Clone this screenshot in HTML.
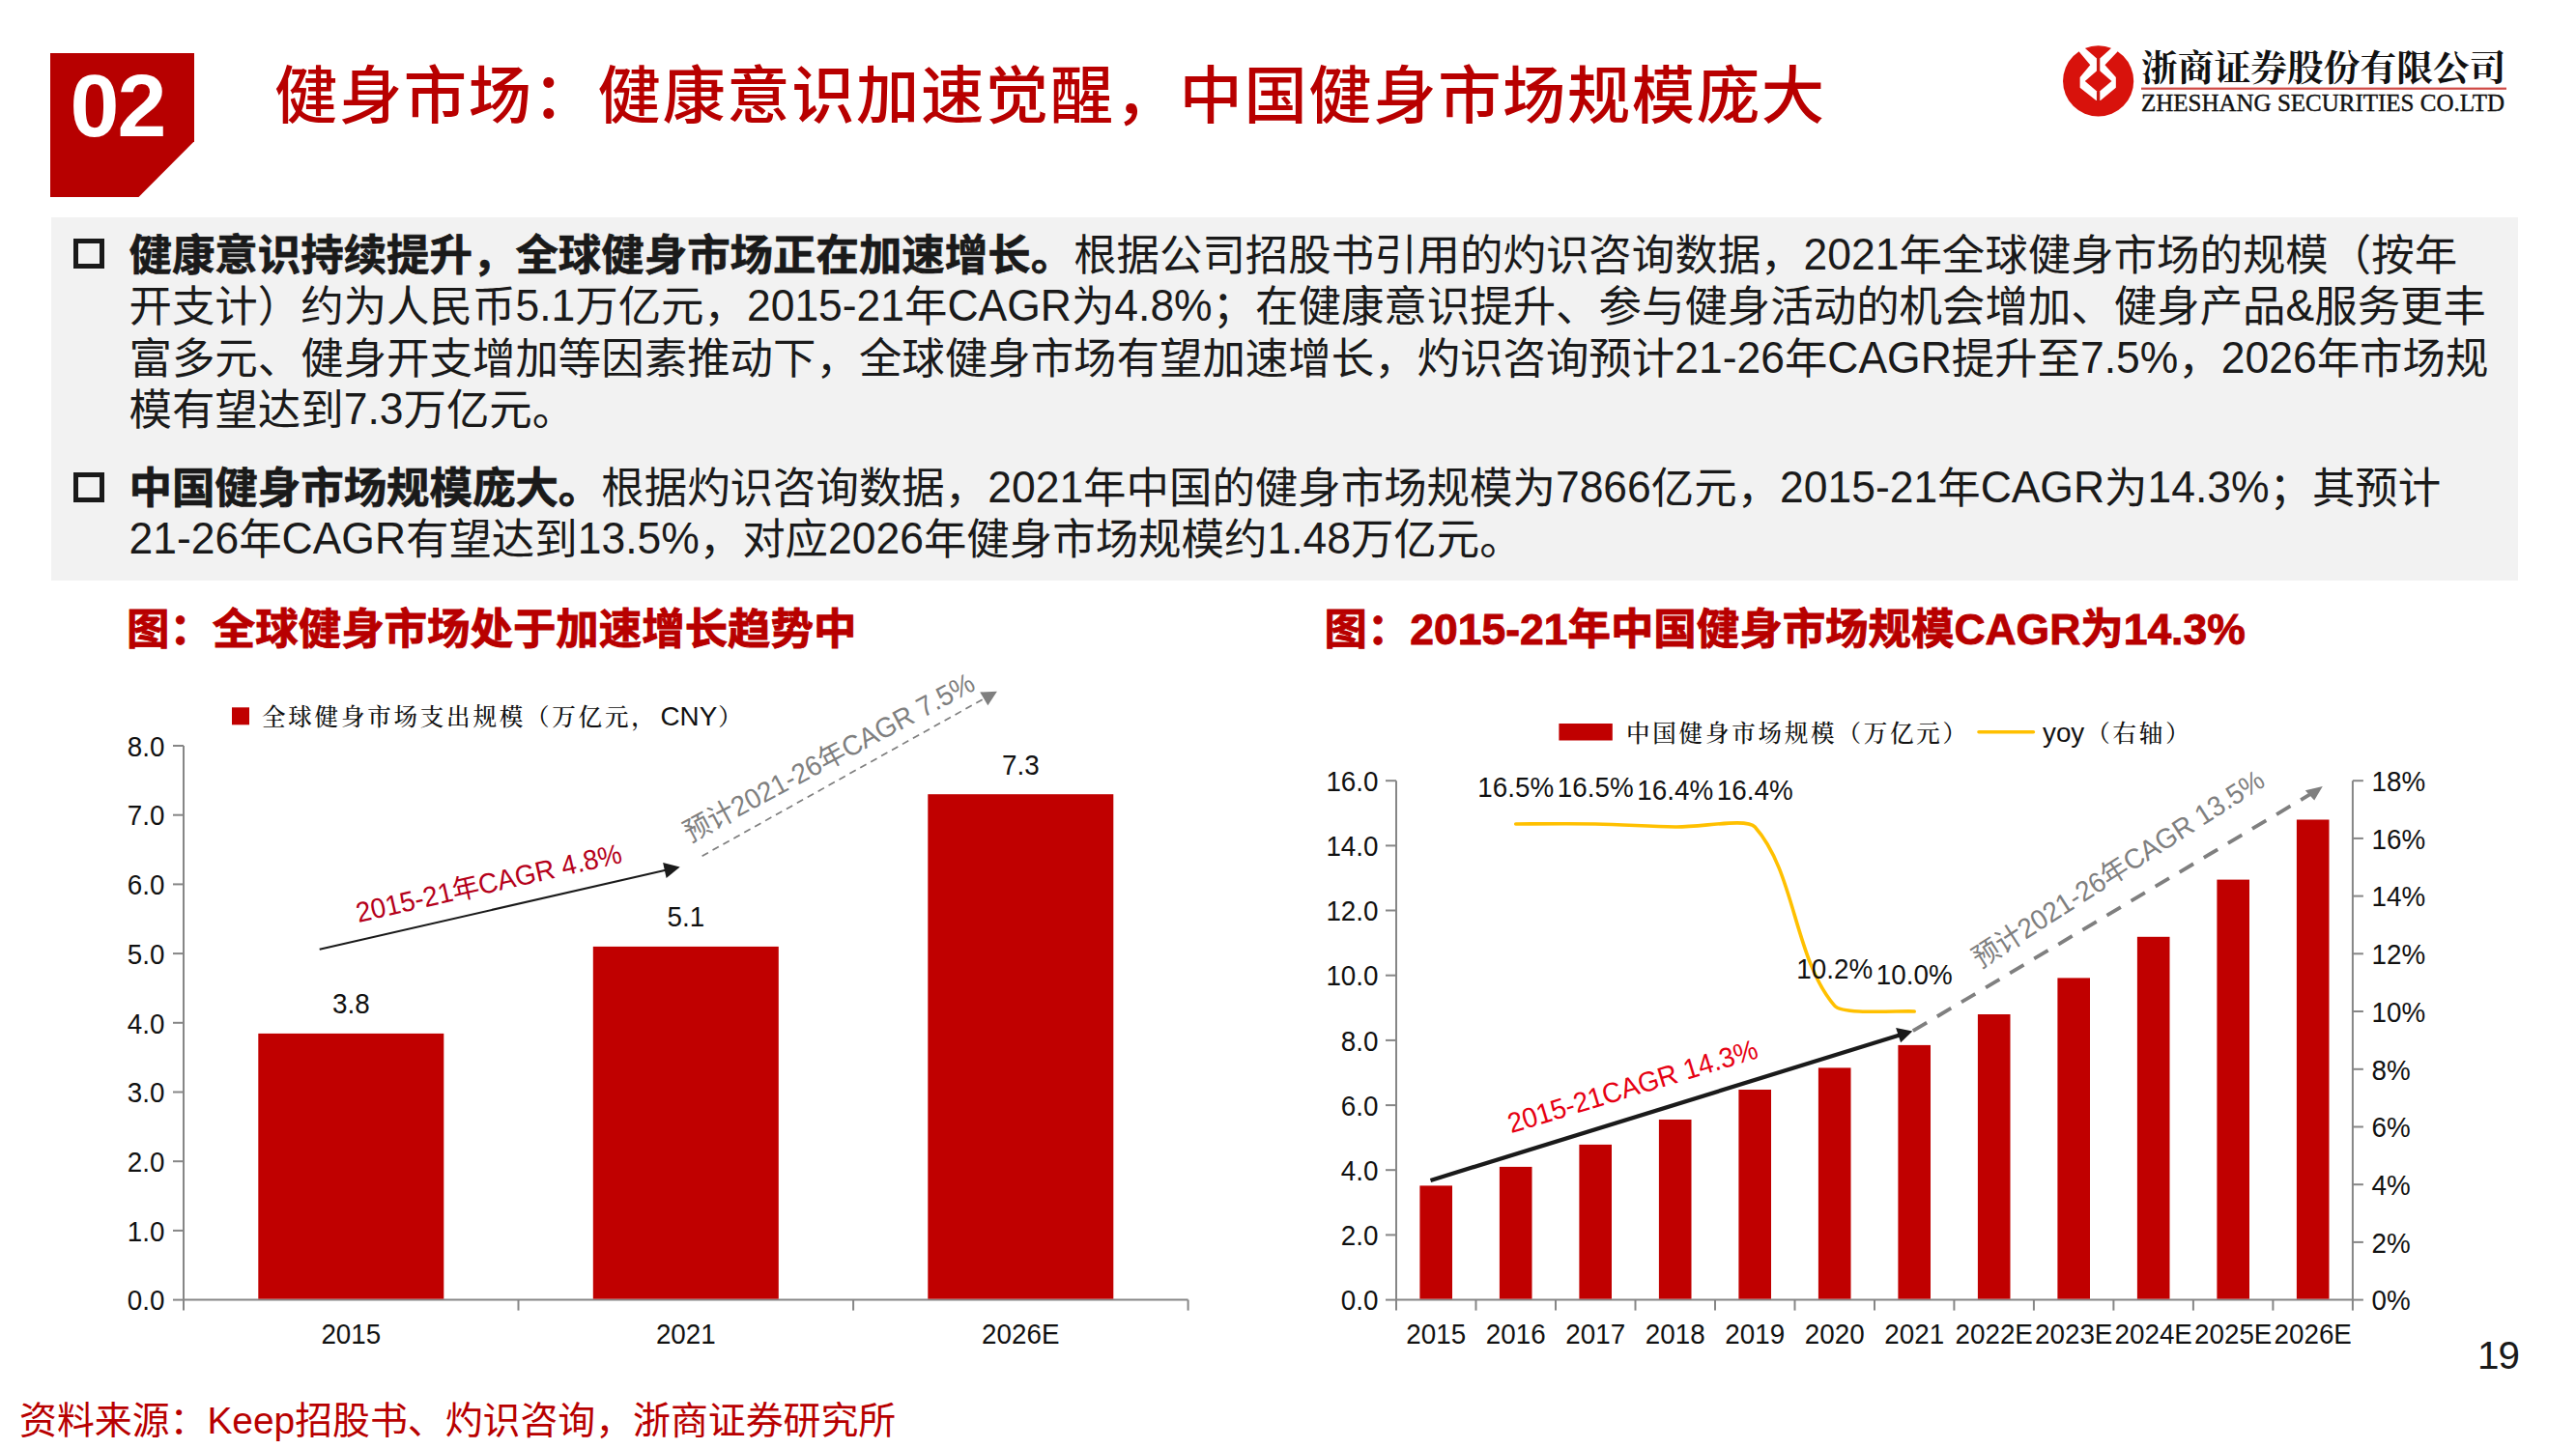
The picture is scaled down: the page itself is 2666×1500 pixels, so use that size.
<!DOCTYPE html>
<html lang="zh-CN"><head><meta charset="utf-8"><title>健身市场</title>
<style>
html,body{margin:0;padding:0;background:#fff;}
body{width:2666px;height:1500px;position:relative;overflow:hidden;font-family:"Liberation Sans","Noto Sans CJK SC",sans-serif;}
.abs{position:absolute;white-space:nowrap;}
#num{left:52px;top:55px;width:149px;height:149px;background:#b70000;clip-path:polygon(0 0,100% 0,100% 61.2%,61.4% 100%,0 100%);}
#numt{left:72.5px;top:55px;text-align:left;color:#fff;font-weight:bold;font-size:91.5px;line-height:108px;letter-spacing:-2px}
#title{left:284px;top:51.7px;font-size:65.3px;letter-spacing:1.6px;line-height:96px;font-weight:500;color:#b80000;}
#box{left:53px;top:225px;width:2553px;height:376px;background:#f2f2f2;}
.para{left:133.5px;font-size:44.44px;line-height:53.33px;color:#1a1a1a;}
.para .l{display:inline-block;transform:translateY(-1.2px) scaleY(1.04);transform-origin:50% 79%;}
.para b{font-weight:bold;-webkit-text-stroke:0.7px #1a1a1a;}
.bul{left:75.5px;width:22px;height:21px;border:5px solid #1a1a1a;}
.ct{font-size:44.44px;line-height:60px;font-weight:bold;color:#b80000;-webkit-text-stroke:0.9px #b80000;}
#src{left:20px;top:1446px;font-size:38.89px;line-height:50px;color:#b80000;}
#pg{left:2564px;top:1377.5px;font-size:40.4px;letter-spacing:-1px;line-height:50px;color:#1a1a1a;}
svg{position:absolute;left:0;top:0;}
svg text{font-family:"Liberation Sans","Noto Sans CJK SC",sans-serif;}
.ax{font-size:27.8px;fill:#111;}
.axl{font-family:"Liberation Sans",sans-serif;font-size:27.8px;letter-spacing:0;}
svg text.lg1{font-family:"Liberation Serif","Noto Serif CJK SC",serif;font-weight:700;font-size:37px;}
svg text.lg2{font-family:"Liberation Serif",serif;font-size:24.4px;}
.kai{font-family:"Liberation Sans","Noto Serif CJK SC",serif !important;font-size:24.5px;letter-spacing:2.8px;fill:#111;font-weight:500;}
</style></head><body>
<div class="abs" id="num"></div>
<div class="abs" id="numt">02</div>
<div class="abs" id="title">健身市场：健康意识加速觉醒，中国健身市场规模庞大</div>
<div class="abs" id="box"></div>
<div class="abs bul" style="top:247px"></div>
<div class="abs para" style="top:238px"><b>健康意识持续提升，全球健身市场正在加速增长。</b>根据公司招股书引用的灼识咨询数据，<span class="l">2021</span>年全球健身市场的规模（按年<br>开支计）约为人民币<span class="l">5.1</span>万亿元，<span class="l">2015-21</span>年<span class="l">CAGR</span>为<span class="l">4.8%</span>；在健康意识提升、参与健身活动的机会增加、健身产品<span class="l">&amp;</span>服务更丰<br>富多元、健身开支增加等因素推动下，全球健身市场有望加速增长，灼识咨询预计<span class="l">21-26</span>年<span class="l">CAGR</span>提升至<span class="l">7.5%</span>，<span class="l">2026</span>年市场规<br>模有望达到<span class="l">7.3</span>万亿元。</div>
<div class="abs bul" style="top:489px"></div>
<div class="abs para" style="top:479px"><b>中国健身市场规模庞大。</b>根据灼识咨询数据，<span class="l">2021</span>年中国的健身市场规模为<span class="l">7866</span>亿元，<span class="l">2015-21</span>年<span class="l">CAGR</span>为<span class="l">14.3%</span>；其预计<br><span class="l">21-26</span>年<span class="l">CAGR</span>有望达到<span class="l">13.5%</span>，对应<span class="l">2026</span>年健身市场规模约<span class="l">1.48</span>万亿元。</div>
<div class="abs ct" style="left:131px;top:622px">图：全球健身市场处于加速增长趋势中</div>
<div class="abs ct" style="left:1370.5px;top:622px">图：2015-21年中国健身市场规模CAGR为14.3%</div>
<svg width="2666" height="1500" viewBox="0 0 2666 1500">
<g stroke="#868686" stroke-width="2" fill="none">
<path d="M190.0 772.0 V1345.6 H1229.6"/>
<path d="M179.0 1345.6 H190.0"/>
<path d="M179.0 1273.9 H190.0"/>
<path d="M179.0 1202.2 H190.0"/>
<path d="M179.0 1130.5 H190.0"/>
<path d="M179.0 1058.8 H190.0"/>
<path d="M179.0 987.1 H190.0"/>
<path d="M179.0 915.4 H190.0"/>
<path d="M179.0 843.7 H190.0"/>
<path d="M179.0 772.0 H190.0"/>
<path d="M190.0 1345.6 V1356.6"/>
<path d="M536.5 1345.6 V1356.6"/>
<path d="M883.1 1345.6 V1356.6"/>
<path d="M1229.6 1345.6 V1356.6"/>
</g>
<rect x="267.3" y="1069.9" width="192" height="274.7" fill="#c00000"/>
<text class="ax" transform="translate(363.3,1049.2) scale(1,1.045)" text-anchor="middle">3.8</text>
<text class="ax" transform="translate(363.3,1391.0) scale(1,1.045)" text-anchor="middle">2015</text>
<rect x="613.8" y="979.9" width="192" height="364.7" fill="#c00000"/>
<text class="ax" transform="translate(709.8,959.2) scale(1,1.045)" text-anchor="middle">5.1</text>
<text class="ax" transform="translate(709.8,1391.0) scale(1,1.045)" text-anchor="middle">2021</text>
<rect x="960.3" y="822.2" width="192" height="522.4" fill="#c00000"/>
<text class="ax" transform="translate(1056.3,801.5) scale(1,1.045)" text-anchor="middle">7.3</text>
<text class="ax" transform="translate(1056.3,1391.0) scale(1,1.045)" text-anchor="middle">2026E</text>
<text class="ax" transform="translate(170.5,1356.3) scale(1,1.045)" text-anchor="end">0.0</text>
<text class="ax" transform="translate(170.5,1284.6) scale(1,1.045)" text-anchor="end">1.0</text>
<text class="ax" transform="translate(170.5,1212.9) scale(1,1.045)" text-anchor="end">2.0</text>
<text class="ax" transform="translate(170.5,1141.2) scale(1,1.045)" text-anchor="end">3.0</text>
<text class="ax" transform="translate(170.5,1069.5) scale(1,1.045)" text-anchor="end">4.0</text>
<text class="ax" transform="translate(170.5,997.8) scale(1,1.045)" text-anchor="end">5.0</text>
<text class="ax" transform="translate(170.5,926.1) scale(1,1.045)" text-anchor="end">6.0</text>
<text class="ax" transform="translate(170.5,854.4) scale(1,1.045)" text-anchor="end">7.0</text>
<text class="ax" transform="translate(170.5,782.7) scale(1,1.045)" text-anchor="end">8.0</text>
<rect x="240" y="732.3" width="18" height="18" fill="#c00000"/>
<text class="kai" x="271" y="750.5">全球健身市场支出规模（万亿元，<tspan class="axl" dx="3">CNY</tspan><tspan dx="1">）</tspan></text>
<path d="M330.7 982.7 L690 900.6" stroke="#1a1a1a" stroke-width="2.1" fill="none"/>
<polygon points="703.7,897.5 686.1,893.1 689.6,908.9" fill="#1a1a1a"/>
<text class="ax" fill="#b80000" transform="translate(371,955) rotate(-12.8) scale(1,1.045)"><tspan fill="#b5001a">2015-21年CAGR 4.8%</tspan></text>
<path d="M726.6 886.2 L1020 722.3" stroke="#7f7f7f" stroke-width="1.7" stroke-dasharray="7.2 5.3" fill="none"/>
<polygon points="1031.9,715.8 1014.2,716.5 1022.4,730.2" fill="#7f7f7f"/>
<text class="ax" transform="translate(714.3,872.5) rotate(-28.2) scale(1,1.045)"><tspan fill="#7f7f7f">预计2021-26年CAGR 7.5%</tspan></text>
<g stroke="#868686" stroke-width="2" fill="none">
<path d="M1445.0 808.2 V1345.6 H2434.9 V808.2"/>
<path d="M1434.0 1345.6 H1445.0"/>
<path d="M1434.0 1278.4 H1445.0"/>
<path d="M1434.0 1211.2 H1445.0"/>
<path d="M1434.0 1144.1 H1445.0"/>
<path d="M1434.0 1076.9 H1445.0"/>
<path d="M1434.0 1009.7 H1445.0"/>
<path d="M1434.0 942.5 H1445.0"/>
<path d="M1434.0 875.4 H1445.0"/>
<path d="M1434.0 808.2 H1445.0"/>
<path d="M2434.9 1345.6 H2445.9"/>
<path d="M2434.9 1285.9 H2445.9"/>
<path d="M2434.9 1226.2 H2445.9"/>
<path d="M2434.9 1166.5 H2445.9"/>
<path d="M2434.9 1106.8 H2445.9"/>
<path d="M2434.9 1047.0 H2445.9"/>
<path d="M2434.9 987.3 H2445.9"/>
<path d="M2434.9 927.6 H2445.9"/>
<path d="M2434.9 867.9 H2445.9"/>
<path d="M2434.9 808.2 H2445.9"/>
<path d="M1445.0 1345.6 V1356.6"/>
<path d="M1527.5 1345.6 V1356.6"/>
<path d="M1610.0 1345.6 V1356.6"/>
<path d="M1692.5 1345.6 V1356.6"/>
<path d="M1775.0 1345.6 V1356.6"/>
<path d="M1857.5 1345.6 V1356.6"/>
<path d="M1940.0 1345.6 V1356.6"/>
<path d="M2022.4 1345.6 V1356.6"/>
<path d="M2104.9 1345.6 V1356.6"/>
<path d="M2187.4 1345.6 V1356.6"/>
<path d="M2269.9 1345.6 V1356.6"/>
<path d="M2352.4 1345.6 V1356.6"/>
<path d="M2434.9 1345.6 V1356.6"/>
</g>
<rect x="1469.4" y="1227.4" width="33.6" height="117.2" fill="#c00000"/>
<text class="ax" transform="translate(1486.2,1391) scale(1,1.045)" text-anchor="middle">2015</text>
<rect x="1551.9" y="1207.9" width="33.6" height="136.7" fill="#c00000"/>
<text class="ax" transform="translate(1568.7,1391) scale(1,1.045)" text-anchor="middle">2016</text>
<rect x="1634.4" y="1184.9" width="33.6" height="159.7" fill="#c00000"/>
<text class="ax" transform="translate(1651.2,1391) scale(1,1.045)" text-anchor="middle">2017</text>
<rect x="1716.9" y="1159.0" width="33.6" height="185.6" fill="#c00000"/>
<text class="ax" transform="translate(1733.7,1391) scale(1,1.045)" text-anchor="middle">2018</text>
<rect x="1799.4" y="1128.0" width="33.6" height="216.6" fill="#c00000"/>
<text class="ax" transform="translate(1816.2,1391) scale(1,1.045)" text-anchor="middle">2019</text>
<rect x="1881.9" y="1105.4" width="33.6" height="239.2" fill="#c00000"/>
<text class="ax" transform="translate(1898.7,1391) scale(1,1.045)" text-anchor="middle">2020</text>
<rect x="1964.4" y="1081.9" width="33.6" height="262.7" fill="#c00000"/>
<text class="ax" transform="translate(1981.2,1391) scale(1,1.045)" text-anchor="middle">2021</text>
<rect x="2046.9" y="1050.0" width="33.6" height="294.6" fill="#c00000"/>
<text class="ax" transform="translate(2063.7,1391) scale(1,1.045)" text-anchor="middle">2022E</text>
<rect x="2129.4" y="1012.4" width="33.6" height="332.2" fill="#c00000"/>
<text class="ax" transform="translate(2146.2,1391) scale(1,1.045)" text-anchor="middle">2023E</text>
<rect x="2211.9" y="969.8" width="33.6" height="374.8" fill="#c00000"/>
<text class="ax" transform="translate(2228.7,1391) scale(1,1.045)" text-anchor="middle">2024E</text>
<rect x="2294.4" y="910.6" width="33.6" height="434.0" fill="#c00000"/>
<text class="ax" transform="translate(2311.2,1391) scale(1,1.045)" text-anchor="middle">2025E</text>
<rect x="2376.9" y="848.5" width="33.6" height="496.1" fill="#c00000"/>
<text class="ax" transform="translate(2393.7,1391) scale(1,1.045)" text-anchor="middle">2026E</text>
<text class="ax" transform="translate(1426.5,1356.3) scale(1,1.045)" text-anchor="end">0.0</text>
<text class="ax" transform="translate(1426.5,1289.1) scale(1,1.045)" text-anchor="end">2.0</text>
<text class="ax" transform="translate(1426.5,1222.0) scale(1,1.045)" text-anchor="end">4.0</text>
<text class="ax" transform="translate(1426.5,1154.8) scale(1,1.045)" text-anchor="end">6.0</text>
<text class="ax" transform="translate(1426.5,1087.6) scale(1,1.045)" text-anchor="end">8.0</text>
<text class="ax" transform="translate(1426.5,1020.4) scale(1,1.045)" text-anchor="end">10.0</text>
<text class="ax" transform="translate(1426.5,953.2) scale(1,1.045)" text-anchor="end">12.0</text>
<text class="ax" transform="translate(1426.5,886.1) scale(1,1.045)" text-anchor="end">14.0</text>
<text class="ax" transform="translate(1426.5,818.9) scale(1,1.045)" text-anchor="end">16.0</text>
<text class="ax" transform="translate(2454.5,1356.3) scale(1,1.045)">0%</text>
<text class="ax" transform="translate(2454.5,1296.6) scale(1,1.045)">2%</text>
<text class="ax" transform="translate(2454.5,1236.9) scale(1,1.045)">4%</text>
<text class="ax" transform="translate(2454.5,1177.2) scale(1,1.045)">6%</text>
<text class="ax" transform="translate(2454.5,1117.5) scale(1,1.045)">8%</text>
<text class="ax" transform="translate(2454.5,1057.7) scale(1,1.045)">10%</text>
<text class="ax" transform="translate(2454.5,998.0) scale(1,1.045)">12%</text>
<text class="ax" transform="translate(2454.5,938.3) scale(1,1.045)">14%</text>
<text class="ax" transform="translate(2454.5,878.6) scale(1,1.045)">16%</text>
<text class="ax" transform="translate(2454.5,818.9) scale(1,1.045)">18%</text>
<path d="M1568.7 853.0 C1582.5 853.0 1623.7 852.5 1651.2 853.0 C1678.7 853.5 1706.2 855.5 1733.7 856.0 C1761.2 856.5 1807.7 846.4 1816.2 856.0 C1858.3 903.2 1856.6 992.3 1898.7 1041.1 C1907.2 1050.9 1967.4 1046.0 1981.2 1047.0" stroke="#ffc000" stroke-width="3.6" fill="none" stroke-linecap="round"/>
<text class="ax" transform="translate(1568.7,824.5) scale(1,1.045)" text-anchor="middle">16.5%</text>
<text class="ax" transform="translate(1651.2,824.5) scale(1,1.045)" text-anchor="middle">16.5%</text>
<text class="ax" transform="translate(1733.7,827.5) scale(1,1.045)" text-anchor="middle">16.4%</text>
<text class="ax" transform="translate(1816.2,827.5) scale(1,1.045)" text-anchor="middle">16.4%</text>
<text class="ax" transform="translate(1898.7,1012.6) scale(1,1.045)" text-anchor="middle">10.2%</text>
<text class="ax" transform="translate(1981.2,1018.5) scale(1,1.045)" text-anchor="middle">10.0%</text>
<rect x="1613.4" y="749" width="55.4" height="17.5" fill="#c00000"/>
<text class="kai" x="1683" y="767.5">中国健身市场规模（万亿元）</text>
<path d="M2048 757.7 H2104.4" stroke="#ffc000" stroke-width="3.6" stroke-linecap="round"/>
<text class="kai" x="2114" y="767.5"><tspan class="axl">yoy</tspan><tspan dx="2">（右轴）</tspan></text>
<path d="M1480.5 1221.9 L1966 1071.6" stroke="#1a1a1a" stroke-width="4.2" fill="none"/>
<polygon points="1979.3,1067.4 1962.1,1064.0 1967.1,1079.3" fill="#1a1a1a"/>
<text class="ax" transform="translate(1564,1173.3) rotate(-17) scale(1,1.045)"><tspan fill="#e60012">2015-21CAGR 14.3%</tspan></text>
<path d="M1979.8 1067.2 L2391 822.2" stroke="#7f7f7f" stroke-width="3.8" stroke-dasharray="16.7 12.5" fill="none"/>
<polygon points="2403.8,814.1 2385.8,818.2 2395.2,828.6" fill="#7f7f7f"/>
<text class="ax" transform="translate(2049.5,1003) rotate(-32.7) scale(1,1.045)"><tspan fill="#7f7f7f">预计2021-26年CAGR 13.5%</tspan></text>

<g transform="translate(2120,30) scale(0.0759)">
<clipPath id="lc"><circle cx="680" cy="710" r="482"/></clipPath>
<circle cx="680" cy="710" r="482" fill="#d8120c"/>
<polygon points="415,305 480,180 880,180 945,305 770,490 920,660 920,800 710,975 650,975 430,800 430,660 570,490" fill="#fff"/>
<g clip-path="url(#lc)" fill="#d8120c">
<polygon points="500,262 855,262 705,400 655,400 "/>
<rect x="500" y="200" width="355" height="63"/>
</g>
<rect x="658" y="390" width="44" height="190" fill="#c81a14"/>
<polygon points="680,555 862,710 680,865 498,710" fill="#d8120c"/>
<rect x="658" y="850" width="44" height="140" fill="#c81a14"/>
</g>

<text class="lg1" x="2216" y="83.5" fill="#111" textLength="377.5" lengthAdjust="spacingAndGlyphs">浙商证券股份有限公司</text>
<rect x="2216" y="90.6" width="378" height="2.2" fill="#cf4a45"/>
<text class="lg2" x="2216" y="114.8" fill="#111" textLength="376" lengthAdjust="spacingAndGlyphs" stroke="#111" stroke-width="0.4">ZHESHANG SECURITIES CO.LTD</text>
</svg>
<div class="abs" id="src">资料来源：Keep招股书、灼识咨询，浙商证券研究所</div>
<div class="abs" id="pg">19</div>
</body></html>
